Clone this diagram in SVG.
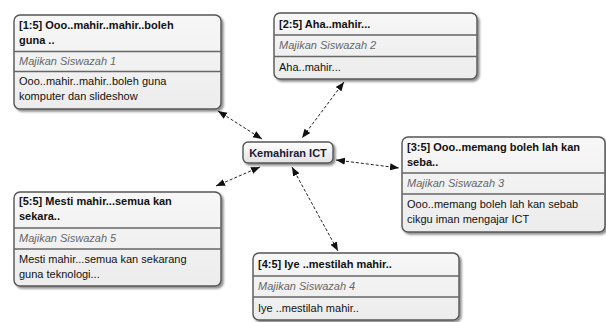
<svg xmlns="http://www.w3.org/2000/svg" width="606" height="322" viewBox="0 0 606 322">
<defs>
<linearGradient id="g" x1="0" y1="0" x2="0" y2="1"><stop offset="0" stop-color="#f7f7f7"/><stop offset="1" stop-color="#ececec"/></linearGradient>
<linearGradient id="gc" x1="0" y1="0" x2="0" y2="1"><stop offset="0" stop-color="#ffffff"/><stop offset="1" stop-color="#e2e2e2"/></linearGradient>
<filter id="sh" x="-10%" y="-10%" width="125%" height="130%"><feDropShadow dx="2" dy="2" stdDeviation="1.2" flood-color="#000" flood-opacity="0.45"/></filter>
<marker id="ah" viewBox="0 0 10 10" refX="10" refY="5" markerWidth="9" markerHeight="9" markerUnits="userSpaceOnUse" orient="auto-start-reverse"><path d="M0,1 L10,5 L0,9 z" fill="#111"/></marker>
</defs>
<style>
.box{fill:url(#g);stroke:#555;stroke-width:1.4;filter:url(#sh)}
.sep{stroke:#666;stroke-width:1.3}
.t{font-family:"Liberation Sans",Arial,sans-serif;font-size:11px;font-weight:bold;fill:#111}
.s{font-family:"Liberation Sans",Arial,sans-serif;font-size:11px;font-style:italic;fill:#666}
.b{font-family:"Liberation Sans",Arial,sans-serif;font-size:11px;fill:#111}
.c{fill:none;stroke:#222;stroke-width:1;stroke-dasharray:3,2;marker-start:url(#ah);marker-end:url(#ah)}
</style>
<g id="connectors">
<line class="c" x1="218" y1="111" x2="262" y2="139"/>
<line class="c" x1="344" y1="82" x2="302" y2="138"/>
<line class="c" x1="336" y1="160" x2="399" y2="168"/>
<line class="c" x1="292" y1="167" x2="338" y2="251"/>
<line class="c" x1="260" y1="167" x2="216" y2="186"/>
</g>
<g id="center">
<rect x="243" y="142" width="90" height="21" rx="5" fill="url(#gc)" stroke="#555" stroke-width="1.4" filter="url(#sh)"/>
<text class="t" x="288" y="156.5" text-anchor="middle" fill="#1a1a33" style="fill:#1a1a33">Kemahiran ICT</text>
</g>
<g id="node1">
<rect class="box" x="14" y="15" width="207" height="94" rx="6"/>
<line class="sep" x1="14" y1="51.5" x2="221" y2="51.5"/>
<line class="sep" x1="14" y1="71.5" x2="221" y2="71.5"/>
<text class="t" x="19" y="29">[1:5] Ooo..mahir..mahir..boleh</text>
<text class="t" x="19" y="44">guna ..</text>
<text class="s" x="19" y="65">Majikan Siswazah 1</text>
<text class="b" x="19" y="85">Ooo..mahir..mahir..boleh guna</text>
<text class="b" x="19" y="100">komputer dan slideshow</text>
</g>
<g id="node2">
<rect class="box" x="274" y="13" width="203" height="66" rx="6"/>
<line class="sep" x1="274" y1="35" x2="477" y2="35"/>
<line class="sep" x1="274" y1="56.5" x2="477" y2="56.5"/>
<text class="t" x="279" y="28">[2:5] Aha..mahir...</text>
<text class="s" x="279" y="49">Majikan Siswazah 2</text>
<text class="b" x="279" y="71">Aha..mahir...</text>
</g>
<g id="node3">
<rect class="box" x="402" y="137" width="203" height="95" rx="6"/>
<line class="sep" x1="402" y1="173" x2="605" y2="173"/>
<line class="sep" x1="402" y1="194" x2="605" y2="194"/>
<text class="t" x="407" y="151">[3:5] Ooo..memang boleh lah kan</text>
<text class="t" x="407" y="166">seba..</text>
<text class="s" x="407" y="187">Majikan Siswazah 3</text>
<text class="b" x="407" y="208">Ooo..memang boleh lah kan sebab</text>
<text class="b" x="407" y="223">cikgu iman mengajar ICT</text>
</g>
<g id="node4">
<rect class="box" x="253" y="253" width="206" height="67" rx="6"/>
<line class="sep" x1="253" y1="276" x2="459" y2="276"/>
<line class="sep" x1="253" y1="297" x2="459" y2="297"/>
<text class="t" x="258" y="268">[4:5] Iye ..mestilah mahir..</text>
<text class="s" x="258" y="290">Majikan Siswazah 4</text>
<text class="b" x="258" y="312">Iye ..mestilah mahir..</text>
</g>
<g id="node5">
<rect class="box" x="14" y="192" width="207" height="94" rx="6"/>
<line class="sep" x1="14" y1="228" x2="221" y2="228"/>
<line class="sep" x1="14" y1="249" x2="221" y2="249"/>
<text class="t" x="19" y="205">[5:5] Mesti mahir...semua kan</text>
<text class="t" x="19" y="220">sekara..</text>
<text class="s" x="19" y="242">Majikan Siswazah 5</text>
<text class="b" x="19" y="263">Mesti mahir...semua kan sekarang</text>
<text class="b" x="19" y="278">guna teknologi...</text>
</g>
</svg>
